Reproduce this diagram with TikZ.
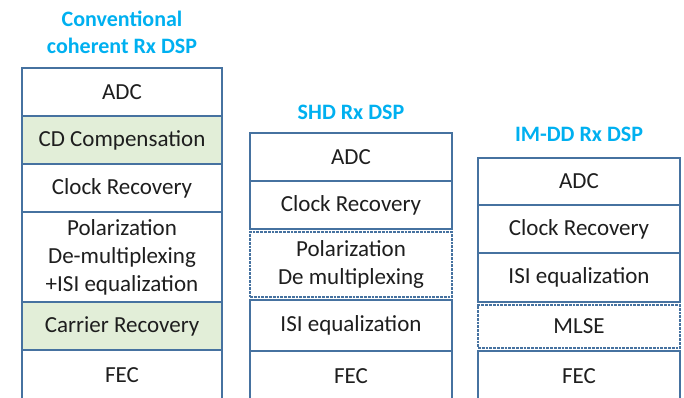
\documentclass[tikz,border=0pt]{standalone}
\usepackage{fontspec}
\setmainfont{Carlito}
\usetikzlibrary{positioning}

\definecolor{boxline}{RGB}{70,114,160}
\definecolor{boxgreen}{RGB}{226,238,216}
\definecolor{titleblue}{RGB}{0,176,240}
\definecolor{boxtext}{RGB}{30,30,30}

\begin{document}
\begin{tikzpicture}[x=1pt,y=-1pt,
  blk/.style={draw=boxline, line width=2.8pt, fill=white, text=boxtext,
    minimum width=200pt, inner sep=0pt, outer sep=0pt, align=center,
    font=\fontsize{23}{28}\selectfont},
  blkgreen/.style={blk, fill=boxgreen},
  blkdots/.style={blk, densely dotted},
  ttl/.style={text=titleblue, align=center, inner sep=0pt,
    font=\bfseries\fontsize{22}{27}\selectfont}]

\useasboundingbox (0,0) rectangle (684,397);

%conventional coherent receiver
\node[blk, minimum height=48pt, anchor=north] (adcA) at (122,68) {ADC};
\node[blkgreen, minimum height=48pt, below=0pt of adcA] (cdA) {CD Compensation};
\node[blk, minimum height=48pt, below=0pt of cdA] (clkA) {Clock Recovery};
\node[blk, minimum height=90pt, below=0pt of clkA] (polA) {Polarization\\De-multiplexing\\+ISI equalization};
\node[blkgreen, minimum height=48pt, below=0pt of polA] (carA) {Carrier Recovery};
\node[blk, minimum height=50pt, below=0pt of carA] (fecA) {FEC};
\node[ttl, above=14pt of adcA] (ttlA) {Conventional\\coherent Rx DSP};

%SHD receiver
\node[blk, minimum width=202pt, minimum height=48pt, anchor=north] (adcB) at (351,133) {ADC};
\node[blk, minimum width=202pt, minimum height=48pt, below=0pt of adcB] (clkB) {Clock Recovery};
\node[blkdots, minimum width=202pt, minimum height=65pt, below=3pt of clkB] (polB) {Polarization\\De multiplexing};
\node[blk, minimum width=202pt, minimum height=51pt, below=3pt of polB] (isiB) {ISI equalization};
\node[blk, minimum width=202pt, minimum height=50pt, below=0pt of isiB] (fecB) {FEC};
\node[ttl, above=13pt of adcB] (ttlB) {SHD Rx DSP};

%IM-DD receiver
\node[blk, minimum width=202pt, minimum height=47pt, anchor=north] (adcC) at (579,158) {ADC};
\node[blk, minimum width=202pt, minimum height=48pt, below=0pt of adcC] (clkC) {Clock Recovery};
\node[blk, minimum width=202pt, minimum height=49pt, below=0pt of clkC] (isiC) {ISI equalization};
\node[blkdots, minimum width=202pt, minimum height=43pt, below=3pt of isiC] (mlseC) {MLSE};
\node[blk, minimum width=202pt, minimum height=50pt, below=3pt of mlseC] (fecC) {FEC};
\node[ttl, above=16pt of adcC] (ttlC) {IM-DD Rx DSP};

\end{tikzpicture}
\end{document}
